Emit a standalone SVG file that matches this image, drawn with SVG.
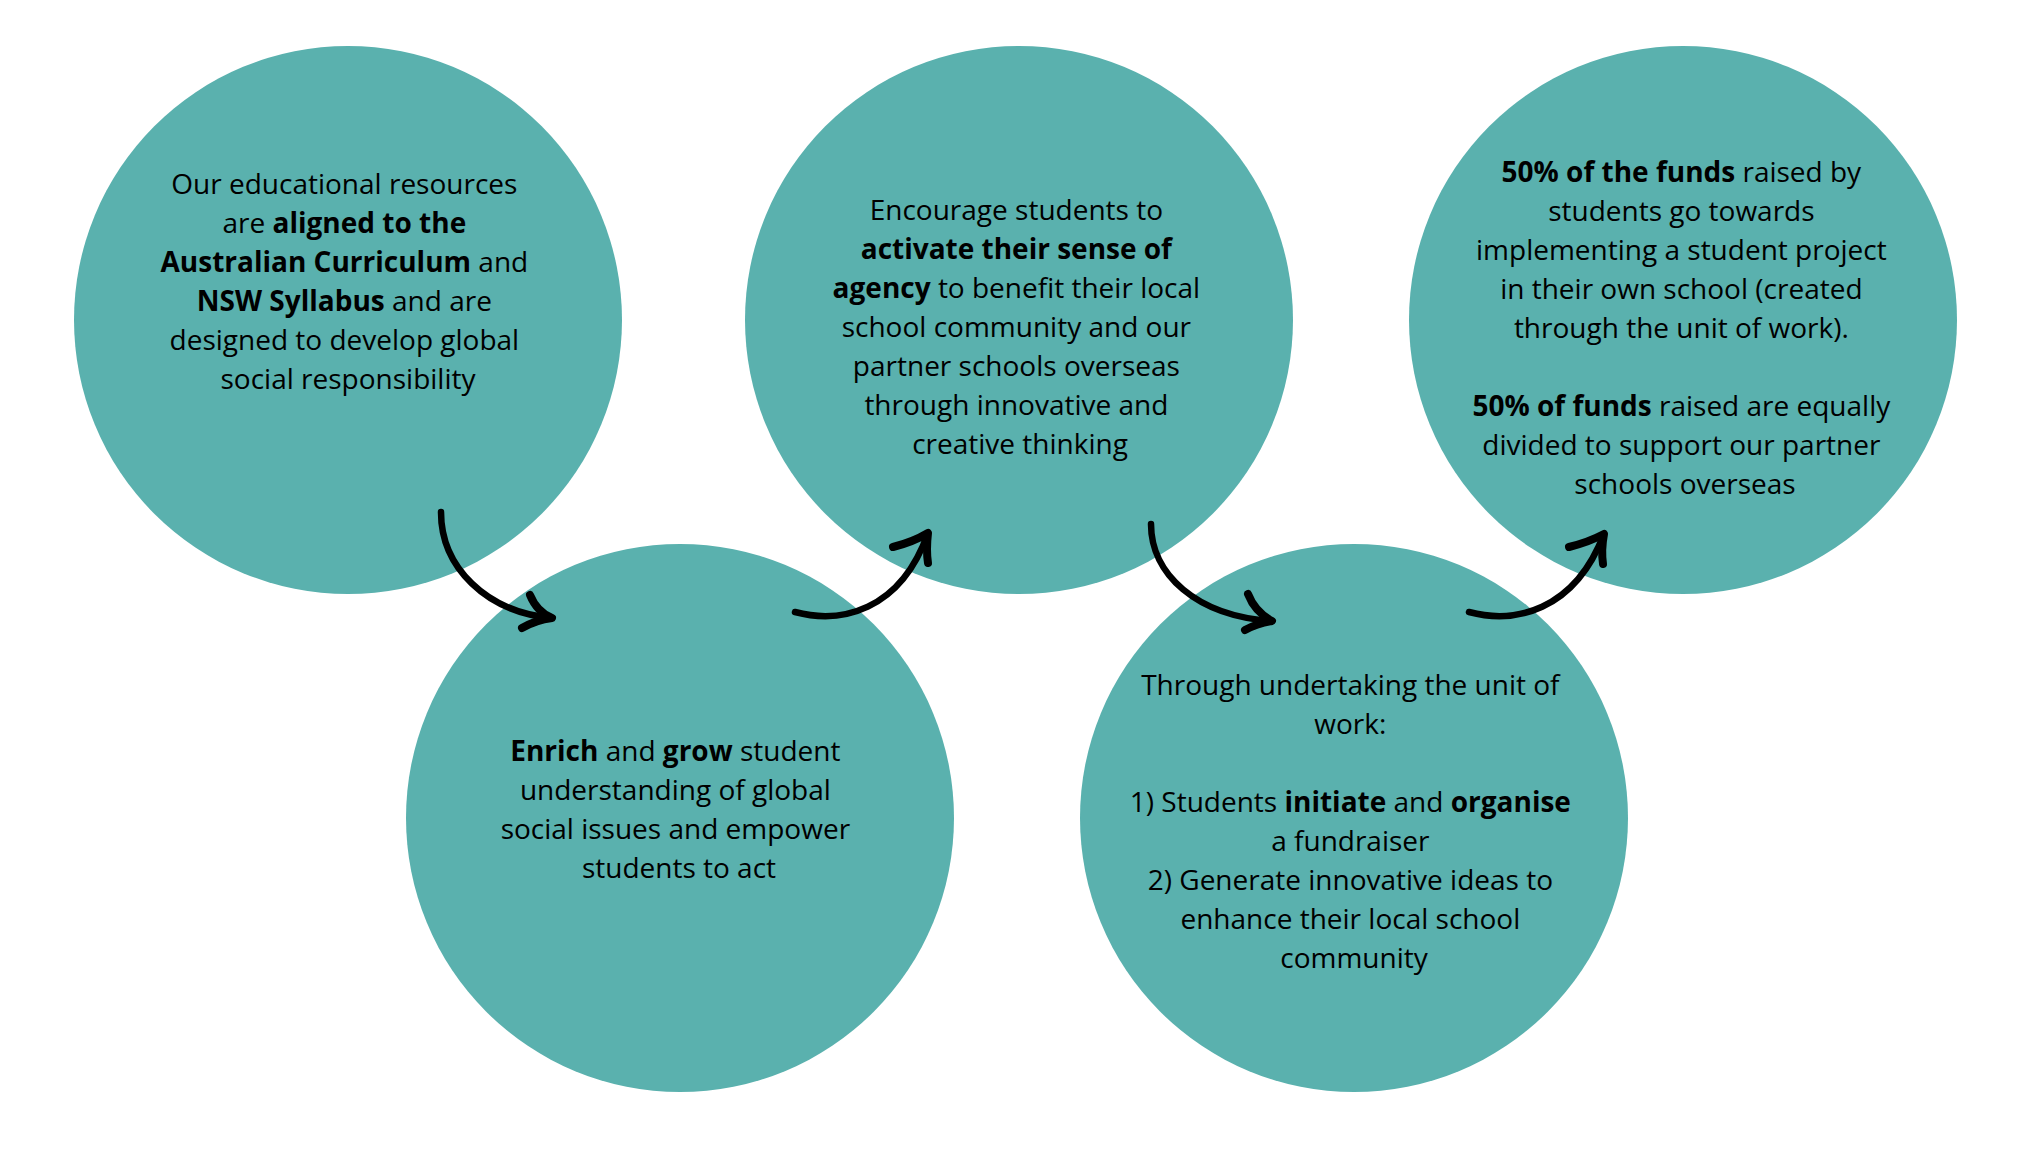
<svg xmlns="http://www.w3.org/2000/svg" width="2038" height="1154" viewBox="0 0 2038 1154">
<style>
.c{fill:#5AB1AE}
.t{font-family:"Open Sans","Noto Sans","Liberation Sans",sans-serif;font-size:28px;fill:#000;text-anchor:middle}
.b{font-weight:700}
.a{fill:none;stroke:#000;stroke-width:6.5;stroke-linecap:round;stroke-linejoin:round}
.h{fill:none;stroke:#000;stroke-width:8;stroke-linecap:round;stroke-linejoin:round}
</style>
<rect width="2038" height="1154" fill="#fff"/>
<g id="node1">
<circle class="c" cx="348" cy="320" r="274"/>
<text class="t">
<tspan x="348" y="194">Our educational resources</tspan>
<tspan x="348" y="233">are <tspan class="b">aligned to the</tspan></tspan>
<tspan x="348" y="272"><tspan class="b">Australian Curriculum</tspan> and</tspan>
<tspan x="348" y="311"><tspan class="b">NSW Syllabus</tspan> and are</tspan>
<tspan x="348" y="350">designed to develop global</tspan>
<tspan x="348" y="389">social responsibility</tspan>
</text>
</g>
<g id="node2">
<circle class="c" cx="680" cy="818" r="274"/>
<text class="t">
<tspan x="679" y="761"><tspan class="b">Enrich</tspan> and <tspan class="b">grow</tspan> student</tspan>
<tspan x="679" y="800">understanding of global</tspan>
<tspan x="679" y="839">social issues and empower</tspan>
<tspan x="679" y="878">students to act</tspan>
</text>
</g>
<g id="node3">
<circle class="c" cx="1019" cy="320" r="274"/>
<text class="t">
<tspan x="1020" y="220">Encourage students to</tspan>
<tspan x="1020" y="259" class="b">activate their sense of</tspan>
<tspan x="1020" y="298"><tspan class="b">agency</tspan> to benefit their local</tspan>
<tspan x="1020" y="337">school community and our</tspan>
<tspan x="1020" y="376">partner schools overseas</tspan>
<tspan x="1020" y="415">through innovative and</tspan>
<tspan x="1020" y="454">creative thinking</tspan>
</text>
</g>
<g id="node4">
<circle class="c" cx="1354" cy="818" r="274"/>
<text class="t">
<tspan x="1354" y="695">Through undertaking the unit of</tspan>
<tspan x="1354" y="734">work:</tspan>
<tspan x="1354" y="812">1) Students <tspan class="b">initiate</tspan> and <tspan class="b">organise</tspan></tspan>
<tspan x="1354" y="851">a fundraiser</tspan>
<tspan x="1354" y="890">2) Generate innovative ideas to</tspan>
<tspan x="1354" y="929">enhance their local school</tspan>
<tspan x="1354" y="968">community</tspan>
</text>
</g>
<g id="node5">
<circle class="c" cx="1683" cy="320" r="274"/>
<text class="t">
<tspan x="1685" y="182"><tspan class="b">50% of the funds</tspan> raised by</tspan>
<tspan x="1685" y="221">students go towards</tspan>
<tspan x="1685" y="260">implementing a student project</tspan>
<tspan x="1685" y="299">in their own school (created</tspan>
<tspan x="1685" y="338">through the unit of work).</tspan>
<tspan x="1685" y="416"><tspan class="b">50% of funds</tspan> raised are equally</tspan>
<tspan x="1685" y="455">divided to support our partner</tspan>
<tspan x="1685" y="494">schools overseas</tspan>
</text>
</g>
<g id="connectors">
<g transform="translate(441,512)">
<path class="a" d="M0,0 C0,55 45,100 111,106"/>
<path class="h" d="M89,83 Q96,100 111,106 Q95,108 81,116"/>
</g>
<g transform="translate(795,612)">
<path class="a" d="M0,0 C45,12 105,0 133,-79"/>
<path class="h" d="M98,-65 Q118,-70 133,-79 Q131,-62 133,-49"/>
</g>
<g transform="translate(1151,524)">
<path class="a" d="M0,0 C0,50 45,92 121,97"/>
<path class="h" d="M97,70 Q104,88 121,97 Q105,100 94,106"/>
</g>
<g transform="translate(1469,612)">
<path class="a" d="M0,0 C45,12 105,0 135,-78"/>
<path class="h" d="M100,-65 Q120,-70 135,-78 Q132,-62 134,-48"/>
</g>
</g>
</svg>
